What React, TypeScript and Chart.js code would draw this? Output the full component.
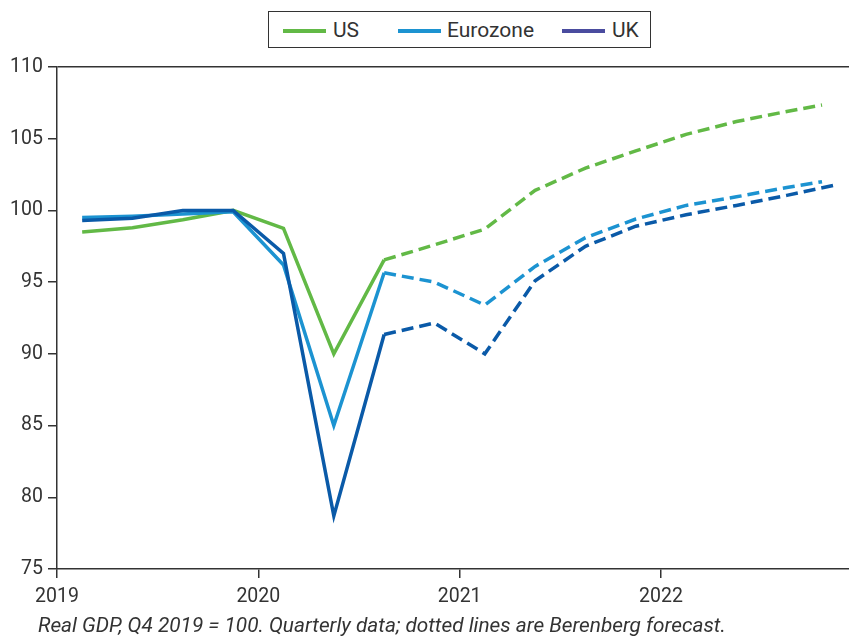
import React, { useEffect, useRef } from "react";
import { Chart, registerables } from "chart.js";

Chart.register(...registerables);

// Quarter mid-points (historical + forecast), as fractional years
const quarterDates = [
  2019.125, 2019.375, 2019.625, 2019.875,
  2020.125, 2020.375, 2020.625, 2020.875,
  2021.125, 2021.375, 2021.625, 2021.875,
  2022.125, 2022.375, 2022.625,
];
const lastDateUsEz = 2022.8;
const lastDateUk = 2022.875;

const usValues = [98.5, 98.8, 99.35, 100, 98.75, 90.0, 96.55, 97.6, 98.7, 101.4, 102.95, 104.15, 105.3, 106.2, 106.9, 107.35];
const ezValues = [99.5, 99.6, 99.75, 99.9, 96.2, 85.0, 95.65, 95.0, 93.4, 96.1, 98.1, 99.4, 100.35, 100.95, 101.6, 102.0];
const ukValues = [99.3, 99.45, 100, 100, 97.0, 78.7, 91.35, 92.15, 90.0, 95.1, 97.5, 98.9, 99.7, 100.35, 101.05, 101.8];

// index of first point from which the line becomes forecast (dashed)
const forecastStartIndex = 6;

const xTicks = [2019, 2020, 2021, 2022];
const yTicks = [75, 80, 85, 90, 95, 100, 105, 110];

const seriesNames = ["US", "Eurozone", "UK"];
const lineColors = ["#62b946", "#1c93d1", "#0a5aa8"];
const legendColors = ["#62b946", "#1c93d1", "#4a4c9f"];
const caption = "Real GDP, Q4 2019 = 100. Quarterly data; dotted lines are Berenberg forecast.";

const toPoints = (vals: number[], last: number) =>
  vals.map((v, i) => ({ x: i < quarterDates.length ? quarterDates[i] : last, y: v }));

export default function App() {
  const canvasRef = useRef<HTMLCanvasElement | null>(null);

  useEffect(() => {
    document.body.style.margin = "0";
    const canvas = canvasRef.current;
    if (!canvas) return;
    const axisColor = "#333333";
    const dash = (ctx: any) => (ctx.p0DataIndex >= forecastStartIndex ? [12, 6] : undefined);
    const mk = (label: string, vals: number[], last: number, color: string, order: number) => ({
      label,
      data: toPoints(vals, last),
      borderColor: color,
      backgroundColor: color,
      borderWidth: 3.5,
      pointRadius: 0,
      tension: 0,
      fill: false,
      order,
      segment: { borderDash: dash },
    });

    const chart = new Chart(canvas, {
      type: "line",
      data: {
        datasets: [
          mk(seriesNames[2], ukValues, lastDateUk, lineColors[2], 0),
          mk(seriesNames[1], ezValues, lastDateUsEz, lineColors[1], 1),
          mk(seriesNames[0], usValues, lastDateUsEz, lineColors[0], 2),
        ],
      },
      options: {
        animation: false,
        responsive: false,
        maintainAspectRatio: false,
        layout: { padding: { top: 67, left: 0, right: 0, bottom: 0 } },
        plugins: {
          legend: { display: false },
          tooltip: { enabled: false },
        },
        scales: {
          x: {
            type: "linear",
            min: 2019,
            max: 2022.934,
            afterBuildTicks: (s: any) => {
              s.ticks = xTicks.map((v) => ({ value: v }));
            },
            afterFit: (s: any) => {
              s.height = 67;
            },
            ticks: {
              color: "#333333",
              font: { family: "Roboto", size: 19.5 },
              padding: 7,
              maxRotation: 0,
              autoSkip: false,
              callback: (v: any) => String(v),
            },
            grid: {
              drawOnChartArea: false,
              drawTicks: true,
              tickLength: 9,
              tickColor: axisColor,
              lineWidth: 1.5,
            },
            border: { display: true, color: axisColor, width: 1.5 },
          },
          y: {
            type: "linear",
            min: 75,
            max: 110,
            afterBuildTicks: (s: any) => {
              s.ticks = yTicks.map((v) => ({ value: v }));
            },
            afterFit: (s: any) => {
              s.width = 57;
            },
            ticks: {
              color: "#333333",
              font: { family: "Roboto", size: 19.5 },
              padding: 5,
            },
            grid: {
              drawOnChartArea: true,
              drawTicks: true,
              tickLength: 9,
              color: (ctx: any) => (ctx.tick && ctx.tick.value === 110 ? axisColor : "rgba(0,0,0,0)"),
              tickColor: axisColor,
              lineWidth: 1.5,
            },
            border: { display: true, color: axisColor, width: 1.5 },
          },
        },
      },
    } as any);

    return () => chart.destroy();
  }, []);

  const legendLineLeft = [283, 398, 562];
  const legendTextLeft = [333, 447, 612];

  return (
    <div style={{ position: "relative", width: 849, height: 636, background: "#fff", overflow: "hidden" }}>
      <canvas ref={canvasRef} width={849} height={636} style={{ position: "absolute", left: 0, top: 0, width: 849, height: 636 }} />
      <div
        style={{
          position: "absolute",
          left: 268,
          top: 11,
          width: 383,
          height: 37,
          boxSizing: "border-box",
          border: "1.5px solid #333",
          background: "#fff",
        }}
      />
      {seriesNames.map((name, i) => (
        <React.Fragment key={name}>
          <div
            style={{
              position: "absolute",
              left: legendLineLeft[i],
              top: 29,
              width: 43,
              height: 4,
              background: legendColors[i],
            }}
          />
          <div
            style={{
              position: "absolute",
              left: legendTextLeft[i],
              top: 17,
              height: 26,
              lineHeight: "26px",
              fontFamily: "Roboto",
              fontSize: 21,
              color: "#333",
              whiteSpace: "nowrap",
            }}
          >
            {name}
          </div>
        </React.Fragment>
      ))}
      <div
        style={{
          position: "absolute",
          left: 38,
          top: 613,
          lineHeight: "24px",
          fontFamily: "Roboto",
          fontStyle: "italic",
          fontSize: 20.8,
          color: "#333",
          whiteSpace: "nowrap",
        }}
      >
        {caption}
      </div>
    </div>
  );
}
